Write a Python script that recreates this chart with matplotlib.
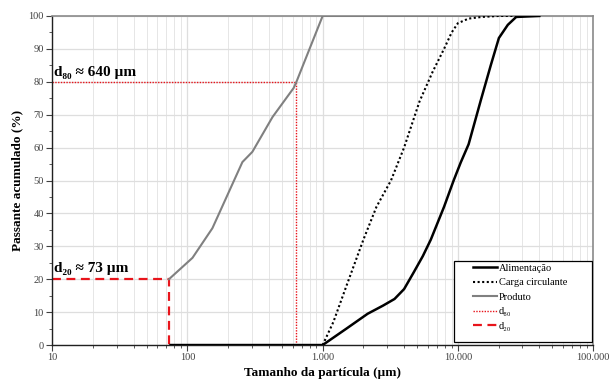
import numpy as np
import matplotlib
matplotlib.use("Agg")
import matplotlib.pyplot as plt
import matplotlib.patches as patches
from matplotlib.ticker import FixedLocator, FuncFormatter, MultipleLocator, LogLocator, NullFormatter

plt.rcParams["font.family"] = ["Liberation Serif", "DejaVu Serif"]

# ── data ────────────────────────────────────
alim_x = [75, 1000, 1500, 2150, 2800, 3400, 4000, 4700, 5500, 6300, 7900, 9300,
          10500, 12000, 14800, 17500, 20100, 23400, 27000, 40000]
alim_y = [0, 0, 5, 9.5, 12, 14, 17, 22, 27, 32, 42, 50,
          55.5, 61, 74.5, 85, 93.3, 97.3, 99.7, 100]

carga_x = [1000, 1200, 1500, 2000, 2500, 3200, 4000, 5200, 6500, 7900,
           9000, 10000, 12000, 15000, 20000, 40000]
carga_y = [0, 7, 18, 32, 42, 50, 60, 74, 83, 90,
           95, 97.8, 99.2, 99.7, 100, 100]

prod_x = [73, 109, 153, 255, 302, 426, 610, 640, 1000, 40000]
prod_y = [20, 26.5, 35.5, 55.6, 58.7, 69.3, 78.1, 80, 100, 100]

d80, d20 = 640, 73
xmin = 10

fig = plt.figure(figsize=(6.14, 3.8), dpi=100)
ax = fig.add_axes([0.085, 0.092, 0.881, 0.866])

ax.plot(alim_x, alim_y, color="black", lw=1.8, label="Alimentação", zorder=4)
ax.plot(carga_x, carga_y, color="black", lw=1.5, ls=(0, (1, 1.2)), label="Carga circulante", zorder=4)
ax.plot(prod_x, prod_y, color="#808080", lw=1.5, label="Produto", zorder=3)
ax.plot([xmin, d80, d80], [80, 80, 0], color="#e8141b", lw=1.0, ls=(0, (1, 1)), label="d₈₀", zorder=2)
ax.plot([xmin, d20, d20], [20, 20, 0], color="#e8141b", lw=1.6, ls=(0, (4, 2.5)), label="d₂₀", zorder=2)

ax.set_xscale("log")
ax.set_xlim(10, 100000)
ax.set_ylim(0, 100)

ax.xaxis.set_major_locator(FixedLocator([10, 100, 1000, 10000, 100000]))
ax.xaxis.set_minor_locator(LogLocator(base=10, subs=np.arange(2, 10)))
ax.xaxis.set_minor_formatter(NullFormatter())
ax.xaxis.set_major_formatter(FuncFormatter(lambda v, p: f"{int(round(v)):,}".replace(",", ".")))
ax.yaxis.set_major_locator(MultipleLocator(10))
ax.yaxis.set_minor_locator(MultipleLocator(5))

ax.grid(which="major", color="#dedede", lw=0.9)
ax.grid(which="minor", axis="x", color="#e6e6e6", lw=0.7)
ax.set_axisbelow(True)

ax.tick_params(which="major", direction="out", length=4, width=0.8, labelsize=7.5,
               labelcolor="#404040", color="#404040", pad=2)
ax.tick_params(which="minor", direction="out", length=2.5, width=0.6, color="#404040")

for s in ("left", "bottom"):
    ax.spines[s].set_color("#202020")
    ax.spines[s].set_linewidth(1.0)
for s in ("top", "right"):
    ax.spines[s].set_color("#8a8a8a")
    ax.spines[s].set_linewidth(1.2)

ax.set_xlabel("Tamanho da partícula (µm)", fontsize=9.5, fontweight="bold", labelpad=3)
ax.set_ylabel("Passante acumulado (%)", fontsize=9.5, fontweight="bold", labelpad=4)

ax.text(10.4, 80.9, "d₈₀ ≈ 640 µm", fontsize=11, fontweight="bold", ha="left", va="bottom")
ax.text(10.4, 21.2, "d₂₀ ≈ 73 µm", fontsize=11, fontweight="bold", ha="left", va="bottom")

# legend: entries without frame, plus a plain box
ax.add_patch(patches.Rectangle((0.743, 0.009), 0.255, 0.246, transform=ax.transAxes,
                               facecolor="white", edgecolor="black", lw=0.9, zorder=5))
leg = ax.legend(loc="upper left", bbox_to_anchor=(0.778, 0.248), fontsize=7.5,
                frameon=False, borderpad=0, borderaxespad=0,
                handlelength=2.3, handletextpad=0.2, labelspacing=0.5)
leg.set_zorder(6)

fig.savefig("out.png", dpi=100)
